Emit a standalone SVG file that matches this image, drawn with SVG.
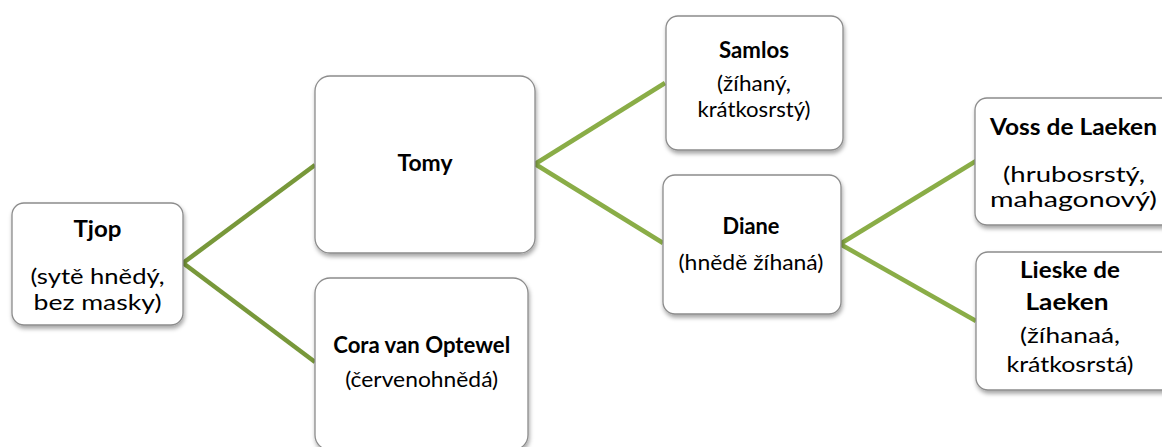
<svg xmlns="http://www.w3.org/2000/svg" width="1162" height="447" viewBox="0 0 1162 447">
<style>
.box{fill:#ffffff;stroke:#8c8c8c;stroke-width:1.3;filter:url(#sh)}
.t{font-family:Lato,"Open Sans","Liberation Sans",sans-serif;font-size:22px;fill:#000;text-anchor:middle}
.b{font-weight:bold}
.c1{stroke:#78983a;stroke-width:4.5;fill:none}
.c2{stroke:#8aad47;stroke-width:4.5;fill:none}
</style>
<defs>
<filter id="sh" x="-10%" y="-10%" width="125%" height="130%">
<feDropShadow dx="1" dy="3" stdDeviation="2" flood-color="#000" flood-opacity="0.35"/>
</filter>
</defs>
<rect width="1162" height="447" fill="#ffffff"/>
<g id="connectors">
<line class="c1" x1="183" y1="263" x2="315" y2="165"/>
<line class="c1" x1="183" y1="263" x2="315" y2="362"/>
<line class="c2" x1="535" y1="164" x2="665" y2="83"/>
<line class="c2" x1="535" y1="164" x2="663" y2="243"/>
<line class="c2" x1="840" y1="244" x2="976" y2="161"/>
<line class="c2" x1="840" y1="244" x2="976" y2="321"/>
</g>
<g id="tjop">
<rect class="box" x="12" y="203" width="171" height="122" rx="12"/>
<text class="t b" x="97.5" y="237" textLength="48" lengthAdjust="spacingAndGlyphs">Tjop</text>
<text class="t" x="97.5" y="284" textLength="134" lengthAdjust="spacingAndGlyphs">(sytě hnědý,</text>
<text class="t" x="97.5" y="310" textLength="128" lengthAdjust="spacingAndGlyphs">bez masky)</text>
</g>
<g id="tomy">
<rect class="box" x="315" y="76" width="220" height="177" rx="15"/>
<text class="t b" x="425" y="171" textLength="55" lengthAdjust="spacingAndGlyphs">Tomy</text>
</g>
<g id="cora">
<rect class="box" x="315" y="278" width="213" height="172" rx="15"/>
<text class="t b" x="421.7" y="353" textLength="177" lengthAdjust="spacingAndGlyphs">Cora van Optewel</text>
<text class="t" x="421.7" y="387" textLength="153" lengthAdjust="spacingAndGlyphs">(červenohnědá)</text>
</g>
<g id="samlos">
<rect class="box" x="666" y="16" width="177" height="134" rx="12"/>
<text class="t b" x="754" y="58" textLength="70" lengthAdjust="spacingAndGlyphs">Samlos</text>
<text class="t" x="754" y="91" textLength="74" lengthAdjust="spacingAndGlyphs">(žíhaný,</text>
<text class="t" x="754" y="117" textLength="113" lengthAdjust="spacingAndGlyphs">krátkosrstý)</text>
</g>
<g id="diane">
<rect class="box" x="663" y="175" width="178" height="139" rx="12"/>
<text class="t b" x="751" y="234" textLength="57" lengthAdjust="spacingAndGlyphs">Diane</text>
<text class="t" x="751" y="270" textLength="145" lengthAdjust="spacingAndGlyphs">(hnědě žíhaná)</text>
</g>
<g id="voss">
<rect class="box" x="975" y="98" width="205" height="127" rx="12"/>
<text class="t b" x="1073.5" y="135" textLength="167" lengthAdjust="spacingAndGlyphs">Voss de Laeken</text>
<text class="t" x="1074" y="182" textLength="142" lengthAdjust="spacingAndGlyphs">(hrubosrstý,</text>
<text class="t" x="1073.5" y="207" textLength="167" lengthAdjust="spacingAndGlyphs">mahagonový)</text>
</g>
<g id="lieske">
<rect class="box" x="976" y="252" width="205" height="138" rx="12"/>
<text class="t b" x="1070" y="278" textLength="100" lengthAdjust="spacingAndGlyphs">Lieske de</text>
<text class="t b" x="1067" y="310" textLength="83" lengthAdjust="spacingAndGlyphs">Laeken</text>
<text class="t" x="1070" y="343" textLength="100" lengthAdjust="spacingAndGlyphs">(žíhanaá,</text>
<text class="t" x="1070" y="372" textLength="127" lengthAdjust="spacingAndGlyphs">krátkosrstá)</text>
</g>
</svg>
